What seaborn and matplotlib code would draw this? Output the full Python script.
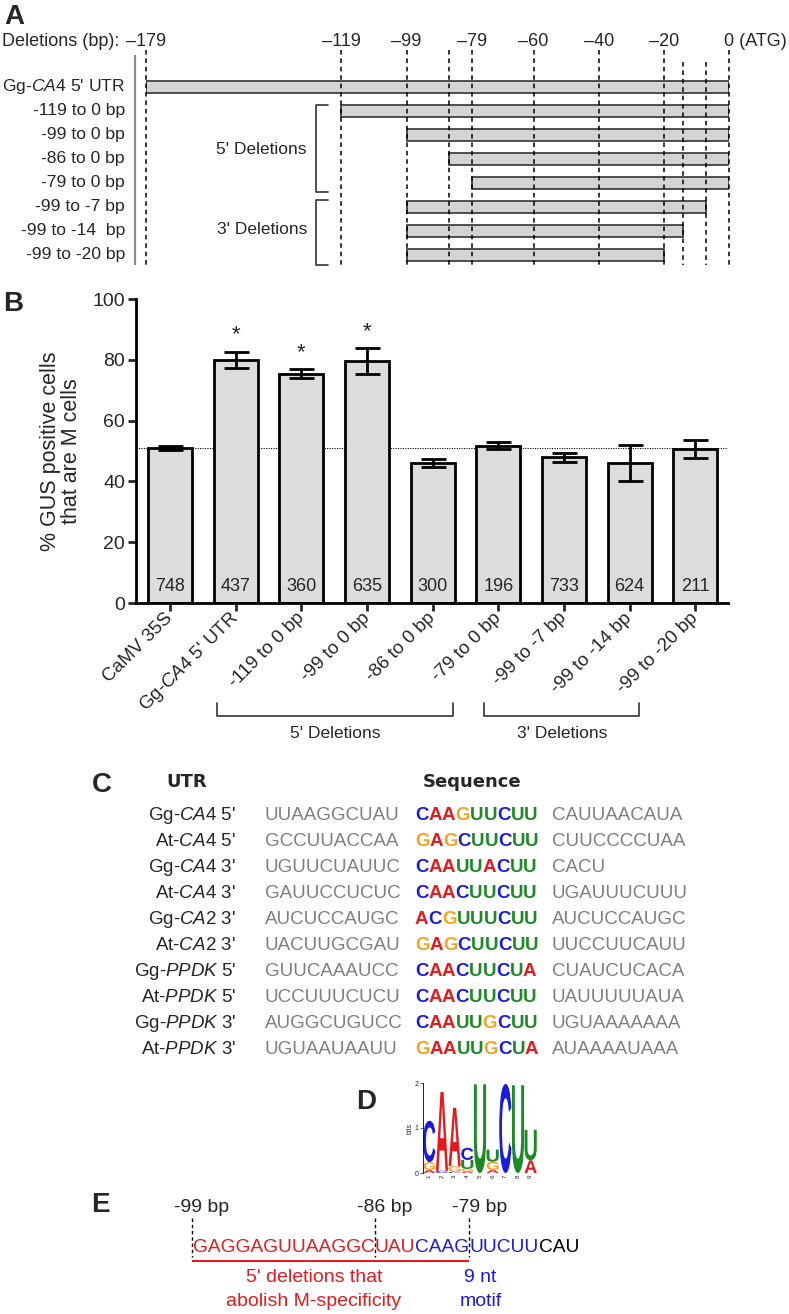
import numpy as np
import pandas as pd
import matplotlib
matplotlib.use('Agg')
import matplotlib.pyplot as plt
import matplotlib.transforms as mtransforms
from matplotlib.textpath import TextPath
from matplotlib.patches import PathPatch
from matplotlib.font_manager import FontProperties
import seaborn as sns

# ---- panel A: deletion constructs ----
construct_labels = ["Gg-$\\mathit{CA4}$ 5' UTR", "-119 to 0 bp", "-99 to 0 bp", "-86 to 0 bp",
                    "-79 to 0 bp", "-99 to -7 bp", "-99 to -14  bp", "-99 to -20 bp"]
construct_start = [-179, -119, -99, -86, -79, -99, -99, -99]
construct_end = [0, 0, 0, 0, 0, -7, -14, -20]
guide_bp = [-179, -119, -99, -86, -79, -60, -40, -20, -14, -7, 0]
guide_labels = ["\u2013179", "\u2013119", "\u201399", "", "\u201379", "\u201360", "\u201340", "\u201320", "", "", ""]

# ---- panel B: % M cells ----
samples = ["CaMV 35S", "Gg-$\\mathit{CA4}$ 5' UTR", "-119 to 0 bp", "-99 to 0 bp", "-86 to 0 bp",
           "-79 to 0 bp", "-99 to -7 bp", "-99 to -14 bp", "-99 to -20 bp"]
pct_m = [50.9, 79.9, 75.4, 79.6, 46.0, 51.8, 47.9, 46.0, 50.7]
sem = [0.6, 2.7, 1.5, 4.3, 1.3, 1.2, 1.4, 6.0, 2.9]
n_cells = [748, 437, 360, 635, 300, 196, 733, 624, 211]
signif = [False, True, True, True, False, False, False, False, False]

# ---- panel C: UTR motifs ----
utr_names = ["Gg-$\\mathit{CA4}$ 5'", "At-$\\mathit{CA4}$ 5'", "Gg-$\\mathit{CA4}$ 3'", "At-$\\mathit{CA4}$ 3'",
             "Gg-$\\mathit{CA2}$ 3'", "At-$\\mathit{CA2}$ 3'", "Gg-$\\mathit{PPDK}$ 5'", "At-$\\mathit{PPDK}$ 5'",
             "Gg-$\\mathit{PPDK}$ 3'", "At-$\\mathit{PPDK}$ 3'"]
flank_left = ["UUAAGGCUAU", "GCCUUACCAA", "UGUUCUAUUC", "GAUUCCUCUC", "AUCUCCAUGC",
              "UACUUGCGAU", "GUUCAAAUCC", "UCCUUUCUCU", "AUGGCUGUCC", "UGUAAUAAUU"]
motif = ["CAAGUUCUU", "GAGCUUCUU", "CAAUUACUU", "CAACUUCUU", "ACGUUUCUU",
         "GAGCUUCUU", "CAACUUCUA", "CAACUUCUU", "CAAUUGCUU", "GAAUUGCUA"]
flank_right = ["CAUUAACAUA", "CUUCCCCUAA", "CACU", "UGAUUUCUUU", "AUCUCCAUGC",
               "UUCCUUCAUU", "CUAUCUCACA", "UAUUUUUAUA", "UGUAAAAAAA", "AUAAAAUAAA"]

# ---- panel D: logo (bits) ----
logo_pos = [1, 2, 3, 4, 5, 6, 7, 8, 9]
logo_A = [0.07, 1.75, 1.30, 0.04, 0.0, 0.07, 0.0, 0.0, 0.28]
logo_C = [0.92, 0.05, 0.03, 0.27, 0.0, 0.0, 1.98, 0.0, 0.0]
logo_G = [0.17, 0.0, 0.12, 0.05, 0.0, 0.18, 0.0, 0.0, 0.0]
logo_U = [0.0, 0.0, 0.0, 0.20, 1.97, 0.27, 0.0, 1.95, 0.68]

# ---- panel E ----
seq_parts = [("GAGGAGUUAAGGC", "red"), ("UAU", "red"), ("CAAG", "blue"), ("UUCUU", "blue"), ("CAU", "black")]
cut_labels = ["-99 bp", "-86 bp", "-79 bp"]

sns.set_theme(style="white")
plt.rcParams['font.family'] = ['Liberation Sans', 'DejaVu Sans']
plt.rcParams['mathtext.fontset'] = 'custom'
plt.rcParams['mathtext.rm'] = 'Liberation Sans'
plt.rcParams['mathtext.it'] = 'Liberation Sans:italic'

base_col = {'A': '#e8191c', 'C': '#1a1ae0', 'G': '#f5a21e', 'U': '#1c8a24'}
seq_col = {'red': '#e8191c', 'blue': '#1a1ae0', 'black': 'black'}

W, H = 789, 1314
fig = plt.figure(figsize=(W / 100, H / 100), dpi=100)

def frac(x0, y0, x1, y1):
    return [x0 / W, 1 - y1 / H, (x1 - x0) / W, (y1 - y0) / H]

# ---------- A ----------
axa = fig.add_axes(frac(146, 39, 729, 273))
axa.set_xlim(-179, 0)
axa.set_ylim(7.75, -2)
axa.axis('off')
rows = np.arange(len(construct_labels))
widths = np.array(construct_end) - np.array(construct_start)
axa.barh(rows, widths, left=construct_start, height=0.54, color='#d3d3d3',
         edgecolor='#333333', linewidth=1.2, zorder=2)
for bp, lab in zip(guide_bp, guide_labels):
    top = -1.04 if bp in (-14, -7) else -1.54
    axa.vlines(bp, top, 7.42, color='black', lw=1.1, ls=(0, (3, 2.5)), zorder=3, clip_on=False)
    if lab:
        axa.text(bp, -1.9, lab, ha='center', va='center', fontsize=13, clip_on=False)
axa.text(-1.6, -1.9, "0 (ATG)", ha='left', va='center', fontsize=13, clip_on=False)
axa.vlines(-182.4, -1.33, 7.42, color='#8c8c8c', lw=1.6, clip_on=False)

# ---------- B ----------
dfb = pd.DataFrame({'sample': samples, 'pct': pct_m})
axb = fig.add_axes(frac(136, 299, 728, 603))
axb.set_facecolor('none')
sns.barplot(data=dfb, x='sample', y='pct', color='#dcdcdc', saturation=1, edgecolor='black',
            linewidth=2, width=0.67, errorbar=None, ax=axb, zorder=2)
xpos = np.arange(len(samples))
axb.errorbar(xpos, pct_m, yerr=sem, fmt='none', ecolor='black', elinewidth=2,
             capsize=9, capthick=2, zorder=3)
axb.axhline(pct_m[0], color='black', lw=0.8, ls=(0, (1, 1.2)), zorder=1)
for x, v, e, n, s in zip(xpos, pct_m, sem, n_cells, signif):
    axb.text(x, 5.3, str(n), ha='center', va='center', fontsize=13, zorder=4)
    if s:
        axb.text(x, v + e + 5.5, '*', ha='center', va='center', fontsize=16)
axb.set_xlim(-0.52, 8.5)
axb.set_ylim(0, 100)
axb.set_yticks([0, 20, 40, 60, 80, 100])
axb.set_xlabel('')
axb.set_ylabel('')
for sp in ['top', 'right']:
    axb.spines[sp].set_visible(False)
for sp in ['left', 'bottom']:
    axb.spines[sp].set_linewidth(2)
    axb.spines[sp].set_color('black')
axb.tick_params(axis='y', length=6, width=2, labelsize=14, pad=2, left=True)
axb.tick_params(axis='x', length=6, width=2, labelsize=13.5, pad=3, bottom=True)
plt.setp(axb.get_xticklabels(), rotation=45, ha='right', va='center', rotation_mode='anchor')

# ---------- D ----------
axd = fig.add_axes(frac(423, 1083, 537, 1173))
axd.set_facecolor('none')
axd.set_xlim(0.5, 9.5)
axd.set_ylim(0, 2)
fp = FontProperties(family='Liberation Sans', weight='bold')
heights = {'A': logo_A, 'C': logo_C, 'G': logo_G, 'U': logo_U}
for i, p in enumerate(logo_pos):
    stack = sorted([(h[i], b) for b, h in heights.items() if h[i] > 0])
    y0 = 0
    for h, b in stack:
        tp = TextPath((0, 0), b, size=1, prop=fp)
        bb = tp.get_extents()
        tr = mtransforms.Affine2D().translate(-bb.x0, -bb.y0) \
            .scale(0.96 / bb.width, h / bb.height).translate(p - 0.48, y0)
        axd.add_patch(PathPatch(tr.transform_path(tp), fc=base_col[b], ec='none'))
        y0 += h
for sp in ['top', 'right', 'bottom']:
    axd.spines[sp].set_visible(False)
axd.spines['left'].set_linewidth(0.6)
axd.spines['left'].set_color('black')
axd.set_yticks([0, 1, 2])
axd.set_xticks(logo_pos)
axd.set_xticklabels([str(p) for p in logo_pos], rotation=90)
axd.tick_params(axis='y', length=2, width=0.5, labelsize=5, pad=1, left=True)
axd.tick_params(axis='x', length=0, labelsize=4.5, pad=1)
axd.set_ylabel('bits', fontsize=5, labelpad=1)

# ---------- overlay (pixel coords) ----------
ov = fig.add_axes([0, 0, 1, 1], zorder=10)
ov.set_xlim(0, W)
ov.set_ylim(H, 0)
ov.axis('off')

for lab, xy in zip('ABCDE', [(14, 17), (13, 304), (102, 785), (366, 1102), (100, 1205)]):
    ov.text(xy[0], xy[1], lab, fontsize=20, fontweight='bold', ha='center', va='center')

# A labels and brackets
ov.text(2, 41, 'Deletions (bp):', fontsize=13, ha='left', va='center')
rowtr = mtransforms.blended_transform_factory(ov.transData, axa.transData)
for i, lab in enumerate(construct_labels):
    ov.text(125, i, lab, fontsize=12.6, ha='right', va='center', transform=rowtr)
ov.plot([328, 316, 316, 328], [105, 105, 192, 192], color='#333333', lw=1.2)
ov.plot([328, 316, 316, 328], [200, 200, 265, 265], color='#333333', lw=1.2)
ov.text(307, 150, "5' Deletions", fontsize=12.5, ha='right', va='center')
ov.text(307, 230, "3' Deletions", fontsize=12.5, ha='right', va='center')

# B label and brackets
ov.text(61, 451, '% GUS positive cells\nthat are M cells', rotation=90, ha='center',
        va='center', fontsize=15.5, linespacing=1.05)
ov.plot([217, 217, 453, 453], [703, 716, 716, 703], color='#333333', lw=1.2)
ov.plot([484, 484, 639, 639], [703, 716, 716, 703], color='#333333', lw=1.2)
ov.text(335, 733, "5' Deletions", fontsize=12.5, ha='center', va='center')
ov.text(562, 733, "3' Deletions", fontsize=12.5, ha='center', va='center')

# C table
ov.text(187, 782, 'UTR', family='DejaVu Sans', fontweight='bold', fontsize=13, ha='center', va='center')
ov.text(472, 782, 'Sequence', family='DejaVu Sans', fontweight='bold', fontsize=13, ha='center', va='center')
for i in range(len(utr_names)):
    y = 815 + 26 * i
    ov.text(236, y, utr_names[i], fontsize=13.5, ha='right', va='center')
    ov.text(265, y, flank_left[i], fontsize=13.5, color='#7f7f7f', ha='left', va='center')
    ov.text(552, y, flank_right[i], fontsize=13.5, color='#7f7f7f', ha='left', va='center')
    t = ov.text(415, y, motif[i][0], fontsize=13.5, fontweight='bold',
                color=base_col[motif[i][0]], ha='left', va='center')
    for ch in motif[i][1:]:
        t = ov.annotate(ch, xy=(1, 0), xycoords=t, fontsize=13.5, fontweight='bold',
                        color=base_col[ch], ha='left', va='bottom')

# E
segs = []
t = ov.text(193, 1248, seq_parts[0][0], fontsize=13.8, color=seq_col[seq_parts[0][1]], ha='left', va='center')
segs.append(t)
for s, c in seq_parts[1:]:
    t = ov.annotate(s, xy=(1, 0), xycoords=t, fontsize=13.8, color=seq_col[c], ha='left', va='bottom')
    segs.append(t)
fig.canvas.draw()
inv = ov.transData.inverted()
cut_x = [inv.transform((segs[k].get_window_extent().x0, 0))[0] for k in (0, 1, 3)]
cut_x[0] = cut_x[0] - 1
for lab, xd in zip(cut_labels, cut_x):
    ov.text(xd + 10, 1208, lab, fontsize=14, ha='center', va='center')
    ov.vlines(xd, 1218, 1257, color='black', lw=1.0, ls=(0, (2.5, 2)))
ov.hlines(1261, cut_x[0], cut_x[2], color='#e8191c', lw=1.5)
ov.text(314, 1277, "5' deletions that", fontsize=14, color='#e8191c', ha='center', va='center')
ov.text(314, 1302, "abolish M-specificity", fontsize=14, color='#e8191c', ha='center', va='center')
ov.text(480, 1277, "9 nt", fontsize=14, color='#1a1ae0', ha='center', va='center')
ov.text(481, 1302, "motif", fontsize=14, color='#1a1ae0', ha='center', va='center')

fig.savefig('out.png', dpi=100)
